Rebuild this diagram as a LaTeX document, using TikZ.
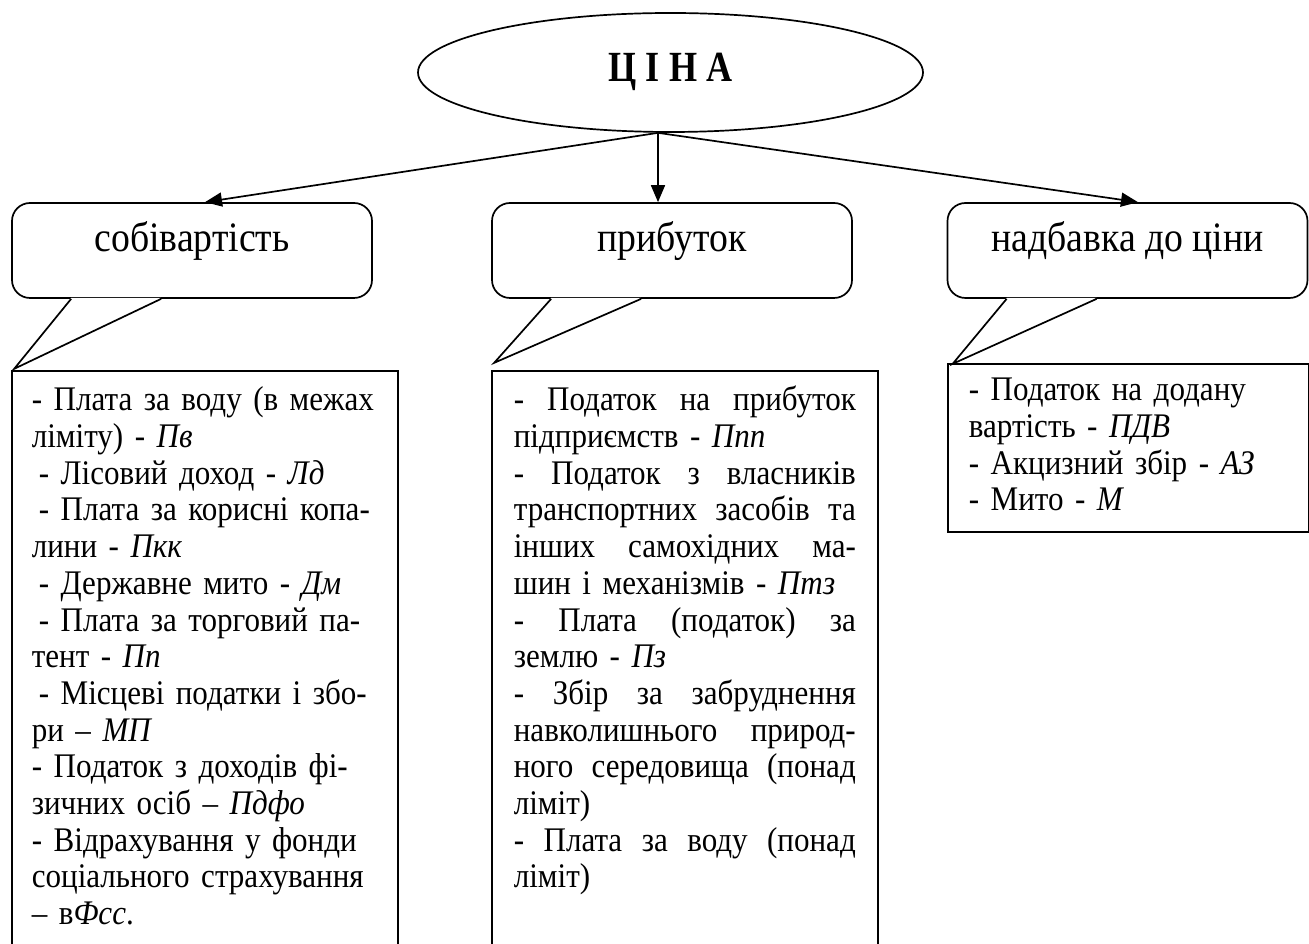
\documentclass[tikz,border=0pt]{standalone}
\usepackage{fontspec}
\setmainfont{Liberation Serif}[FakeStretch=0.9]
\newfontfamily\titlefont{Liberation Serif}[FakeStretch=0.84]
\usetikzlibrary{arrows.meta}
\usetikzlibrary{shapes.geometric}

\newcommand{\calltail}[3]{%
  \fill [white] ([shift={(60,1)}]#1.south west) -- ([shift={(#2,#3)}]#1.south west)
    -- ([shift={(150,1)}]#1.south west) -- cycle;
  \draw [tail] ([xshift=60pt]#1.south west) -- ([shift={(#2,#3)}]#1.south west)
    -- ([xshift=150pt]#1.south west);
}
\newcommand{\jline}[1]{\makebox[\linewidth][s]{\spaceskip=0pt\xspaceskip=0pt\relax#1}}

\begin{document}
\begin{tikzpicture}[x=1pt,y=1pt,line width=1.7pt,
    bubble/.style={draw,fill=white,rounded corners=18pt,minimum width=360pt,minimum height=95pt,
      inner sep=0pt,text height=14pt,text depth=11pt,font=\fontsize{41.9}{48}\selectfont},
    tail/.style={line join=miter},
    arr/.style={draw,-{Triangle[length=17pt,width=14pt]}},
    list/.style={anchor=north west,align=left,font=\fontsize{34.5}{36.7}\selectfont}]

  \useasboundingbox (0,0) rectangle (1309,943);
  \clip (0,0) rectangle (1309,943);

  \node [draw,ellipse,minimum width=505pt,minimum height=119pt,inner sep=0pt,
    text height=19pt,text depth=0pt,font=\titlefont\fontsize{43}{48}\selectfont\bfseries]
    (cina) at (670.5,870.5) {Ц І Н А};

  \node [bubble] (sobiv)  at (192,692.5)   {собівартість};
  \node [bubble] (prybut) at (672,692.5)   {прибуток};
  \node [bubble] (nadb)   at (1127.5,692.5) {надбавка до ціни};

  \calltail{sobiv}{3}{-70}
  \calltail{prybut}{3}{-64}
  \calltail{nadb}{6}{-65}

  \path
    ([xshift=-12.5pt]cina.south) edge [arr] ([xshift=13pt]sobiv.north)
    ([xshift=-12.5pt]cina.south) edge [arr] ([xshift=-14pt]prybut.north)
    ([xshift=-12.5pt]cina.south) edge [arr] ([xshift=10.5pt]nadb.north);

  \node [list,text width=346pt,inner xsep=19pt,inner ysep=12pt] (sobivlist) at (12,572) {%
    \rule{0pt}{27pt}- Плата за воду (в межах\\
    ліміту) - \textit{Пв}\\
    \hspace*{7pt}- Лісовий доход - \textit{Лд}\\
    \hspace*{7pt}- Плата за корисні копа-\\
    лини - \textit{Пкк}\\
    \hspace*{7pt}- Державне мито - \textit{Дм}\\
    \hspace*{7pt}- Плата за торговий па-\\
    тент - \textit{Пп}\\
    \hspace*{7pt}- Місцеві податки і збо-\\
    ри – \textit{МП}\\
    - Податок з доходів фі-\\
    зичних осіб – \textit{Пдфо}\\
    - Відрахування у фонди\\
    соціального страхування\\
    – в\textit{Фсс}.};
  \draw ([yshift=-600pt]sobivlist.north west) -- (sobivlist.north west)
    -- (sobivlist.north east) -- ([yshift=-600pt]sobivlist.north east);

  \node [list,text width=342pt,inner xsep=21pt,inner ysep=12pt] (prybutlist) at (492,572) {%
    \jline{\rule{0pt}{27pt}- Податок на прибуток}\\
    підприємств - \textit{Ппп}\\
    \jline{- Податок з власників}\\
    \jline{транспортних засобів та}\\
    \jline{інших самохідних ма-}\\
    шин і механізмів - \textit{Птз}\\
    \jline{- Плата (податок) за}\\
    землю - \textit{Пз}\\
    \jline{- Збір за забруднення}\\
    \jline{навколишнього природ-}\\
    \jline{ного середовища (понад}\\
    ліміт)\\
    \jline{- Плата за воду (понад}\\
    ліміт)};
  \draw ([yshift=-600pt]prybutlist.north west) -- (prybutlist.north west)
    -- (prybutlist.north east) -- ([yshift=-600pt]prybutlist.north east);

  \node [list,draw,text width=319pt,inner xsep=21pt,inner ysep=10pt] (nadblist) at (947,580) {%
    \rule{0pt}{27pt}- Податок на додану\\
    вартість - \textit{ПДВ}\\
    - Акцизний збір - \textit{АЗ}\\
    - Мито - \textit{М}\rule[-11pt]{0pt}{11pt}};

\end{tikzpicture}
\end{document}
